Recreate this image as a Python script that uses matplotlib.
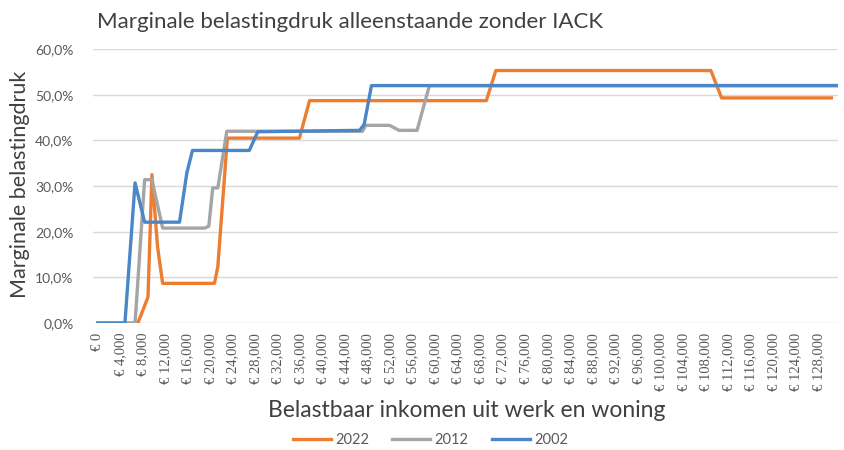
import matplotlib
matplotlib.use("Agg")
import matplotlib.pyplot as plt
from matplotlib.ticker import FuncFormatter, MultipleLocator

# Data (breakpoints), income in euro, rate in %
x2022 = [0, 7100, 8900, 9600, 10600, 11500, 20700, 21300, 23000, 35800, 37600,
         69000, 70700, 108900, 110800, 130300]
y2022 = [0, 0, 5.7, 32.5, 16.7, 8.7, 8.7, 12.3, 40.5, 40.5, 48.7,
         48.7, 55.3, 55.3, 49.3, 49.3]

x2012 = [0, 6600, 8300, 9600, 11500, 19000, 19700, 20400, 21300, 22900, 47000,
         47600, 51800, 53500, 56700, 58900, 131200]
y2012 = [0, 0, 31.4, 31.4, 20.8, 20.8, 21.2, 29.6, 29.6, 42.0, 42.0,
         43.3, 43.3, 42.2, 42.2, 52.0, 52.0]

x2002 = [0, 4800, 6600, 8300, 14500, 15800, 16800, 26900, 28400, 46500, 47300,
         48600, 131200]
y2002 = [0, 0, 30.7, 22.1, 22.1, 32.9, 37.8, 37.8, 41.9, 42.2, 43.5,
         52.0, 52.0]

series_labels = ["2022", "2012", "2002"]
colors = ["#ED7D31", "#A5A5A5", "#4A86C8"]

title = "Marginale belastingdruk alleenstaande zonder IACK"
ylabel = "Marginale belastingdruk"
xlabel = "Belastbaar inkomen uit werk en woning"

fig = plt.figure(figsize=(8.44, 4.5), dpi=100)
ax = fig.add_axes([0.110, 0.282, 0.883, 0.609])

for xs, ys, lab, c in zip([x2022, x2012, x2002], [y2022, y2012, y2002],
                          series_labels, colors):
    ax.plot(xs, ys, color=c, lw=2.4, label=lab, solid_joinstyle="round")

ax.set_xlim(-900, 131500)
ax.set_ylim(0, 60)
ax.yaxis.set_major_locator(MultipleLocator(10))
ax.yaxis.set_major_formatter(FuncFormatter(lambda v, p: f"{v:.1f}%".replace(".", ",")))
ax.set_xticks(range(0, 128001, 4000))
ax.xaxis.set_major_formatter(FuncFormatter(lambda v, p: "€ " + f"{int(v):,}"))
for lbl in ax.get_xticklabels():
    lbl.set_rotation(90)
    lbl.set_family("Liberation Serif")
    lbl.set_fontsize(10.5)
    lbl.set_color("#595959")
for lbl in ax.get_yticklabels():
    lbl.set_family("Lato")
    lbl.set_fontsize(10)
    lbl.set_color("#595959")

ax.tick_params(axis="x", length=0, pad=7)
ax.tick_params(axis="y", length=0, pad=14)
ax.grid(axis="y", color="#D9D9D9", lw=1)
ax.set_axisbelow(True)
for s in ax.spines.values():
    s.set_visible(False)

fig.text(0.115, 0.952, title, fontsize=16, color="#404040", family="Lato",
         ha="left", va="center")
fig.text(0.024, 0.59, ylabel, fontsize=15.5, color="#404040", family="Lato",
         rotation=90, ha="center", va="center")
fig.text(0.553, 0.088, xlabel, fontsize=16.5, color="#404040", family="Lato",
         ha="center", va="center")

leg = fig.legend(loc="center", bbox_to_anchor=(0.51, 0.022), ncol=3, frameon=False,
                 handlelength=2.6, columnspacing=1.6, handletextpad=0.3,
                 prop={"family": "Lato", "size": 10.5})
for t in leg.get_texts():
    t.set_color("#595959")

fig.savefig("out.png", dpi=100)
